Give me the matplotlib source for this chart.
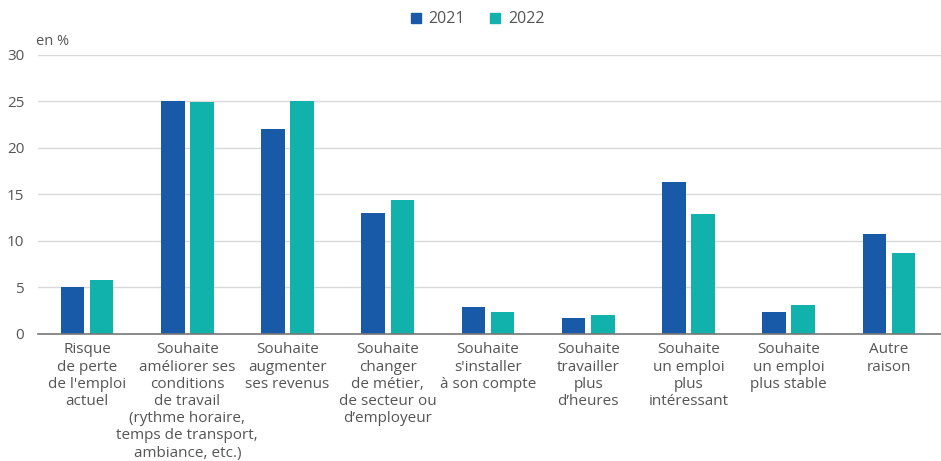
import numpy as np
import matplotlib.pyplot as plt
from matplotlib.lines import Line2D

plt.rcParams['font.family'] = ['Open Sans', 'DejaVu Sans']

# Données
categories = [
    "Risque\nde perte\nde l'emploi\nactuel",
    "Souhaite\naméliorer ses\nconditions\nde travail\n(rythme horaire,\ntemps de transport,\nambiance, etc.)",
    "Souhaite\naugmenter\nses revenus",
    "Souhaite\nchanger\nde métier,\nde secteur ou\nd’employeur",
    "Souhaite\ns'installer\nà son compte",
    "Souhaite\ntravailler\nplus\nd’heures",
    "Souhaite\nun emploi\nplus\nintéressant",
    "Souhaite\nun emploi\nplus stable",
    "Autre\nraison",
]
values_2021 = [5.1, 25.0, 22.0, 13.0, 2.9, 1.7, 16.3, 2.4, 10.7]
values_2022 = [5.8, 24.9, 25.0, 14.4, 2.4, 2.0, 12.9, 3.1, 8.7]
years = ['2021', '2022']

color_2021 = '#1859a8'
color_2022 = '#10b2ab'
text_color = '#555555'

fig = plt.figure(figsize=(9.41, 4.61), dpi=100)
ax = fig.add_axes([0.0404, 0.2755, 0.9596, 0.6052])

x = np.arange(len(categories))
w = 0.235
ax.bar(x - 0.145, values_2021, width=w, color=color_2021, zorder=3)
ax.bar(x + 0.145, values_2022, width=w, color=color_2022, zorder=3)

ax.set_xlim(-0.49, 8.52)
ax.set_ylim(0, 30)
ax.set_yticks([0, 5, 10, 15, 20, 25, 30])
ax.set_xticks(x)
ax.set_xticklabels(categories, fontsize=11, color=text_color, linespacing=1.2)
ax.tick_params(axis='x', length=0, pad=6)
ax.tick_params(axis='y', length=0, pad=10, labelsize=11, labelcolor=text_color)
ax.grid(axis='y', color='#d9d9d9', linewidth=1, zorder=0)

for side in ['top', 'right', 'left']:
    ax.spines[side].set_visible(False)
ax.spines['bottom'].set_color('#777777')
ax.spines['bottom'].set_linewidth(1.2)
ax.spines['bottom'].set_zorder(4)

fig.text(0.038, 0.893, 'en %', fontsize=10.5, color=text_color, ha='left', va='bottom')

handles = [
    Line2D([], [], marker='s', linestyle='', markersize=7, color=color_2021),
    Line2D([], [], marker='s', linestyle='', markersize=7, color=color_2022),
]
fig.legend(handles, years, loc='center', bbox_to_anchor=(0.506, 0.958), ncol=2,
           frameon=False, fontsize=11.5, labelcolor=text_color, handletextpad=0.3,
           columnspacing=1.4, handlelength=1.0)

plt.savefig('out.png', dpi=100)
